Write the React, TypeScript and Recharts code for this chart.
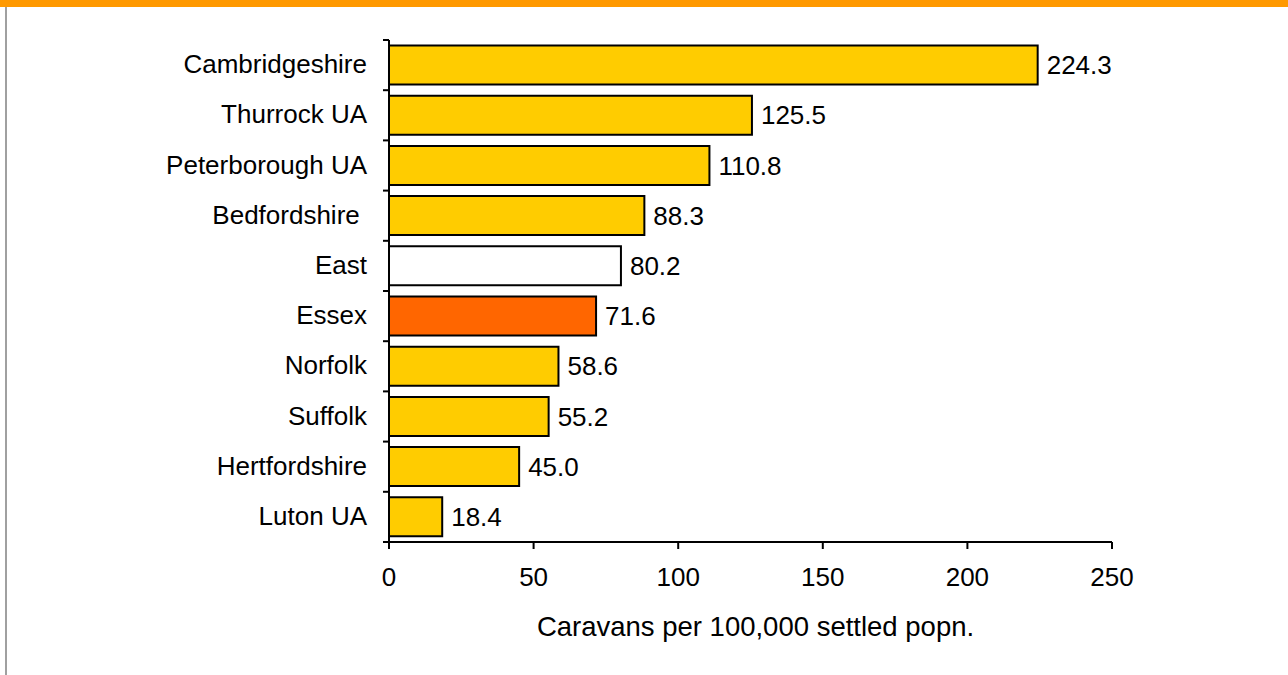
import React from 'react';
import { BarChart, Bar, XAxis, YAxis, Cell, LabelList } from 'recharts';

const categories = ['Cambridgeshire', 'Thurrock UA', 'Peterborough UA', 'Bedfordshire ', 'East', 'Essex', 'Norfolk', 'Suffolk', 'Hertfordshire', 'Luton UA'];
const values = [224.3, 125.5, 110.8, 88.3, 80.2, 71.6, 58.6, 55.2, 45.0, 18.4];
const barColors = ['#FFCC00', '#FFCC00', '#FFCC00', '#FFCC00', '#FFFFFF', '#FF6600', '#FFCC00', '#FFCC00', '#FFCC00', '#FFCC00'];
const xTicks = [0, 50, 100, 150, 200, 250];

const data = categories.map((name, i) => ({ name, value: values[i] }));

const W = 1288;
const H = 675;
const M = { top: 40, right: 176, bottom: 33, left: 0 };
const Y_W = 389;
const X_H = 100;
const PLOT_H = H - M.top - M.bottom - X_H;
const BAND = PLOT_H / categories.length;
const FONT = '"Liberation Sans", Arial, sans-serif';

const YTick = (props: any) => {
  const { y, payload, index } = props;
  const ax = Y_W;
  const top = y - BAND / 2;
  const bottom = y + BAND / 2;
  return (
    <g>
      <line x1={ax - 6} x2={ax} y1={top} y2={top} stroke="#000" strokeWidth={2} />
      {index === categories.length - 1 && (
        <line x1={ax - 6} x2={ax} y1={bottom} y2={bottom} stroke="#000" strokeWidth={2} />
      )}
      <text x={ax - 22} y={y - 1} textAnchor="end" dominantBaseline="central" fontSize={26} fontFamily={FONT} fill="#000" style={{ whiteSpace: 'pre' }}>
        {payload.value}
      </text>
    </g>
  );
};

export default function App() {
  return (
    <div style={{ position: 'absolute', left: 0, top: 0, width: W, height: H, background: '#fff', overflow: 'hidden' }}>
      <div style={{ position: 'absolute', left: 0, top: 0, width: W, height: 7, background: '#FF9900' }} />
      <div style={{ position: 'absolute', left: 5, top: 7, width: 2, height: H - 7, background: '#A0A0A0' }} />
      <div style={{ position: 'absolute', left: 0, top: 0 }}>
        <BarChart width={W} height={H} data={data} layout="vertical" margin={M} barCategoryGap="11%">
          <XAxis
            type="number"
            domain={[0, 250]}
            ticks={xTicks}
            tickSize={7}
            tickMargin={19}
            height={X_H}
            axisLine={{ stroke: '#000', strokeWidth: 2 }}
            tickLine={{ stroke: '#000', strokeWidth: 2 }}
            tick={{ fontSize: 26, fontFamily: FONT, fill: '#000' }}
            label={{ value: 'Caravans per 100,000 settled popn.', position: 'insideBottom', offset: 6, dx: 5, fontSize: 27.5, fontFamily: FONT, fill: '#000' }}
          />
          <YAxis
            type="category"
            dataKey="name"
            width={Y_W}
            axisLine={{ stroke: '#000', strokeWidth: 2 }}
            tickLine={false}
            tick={<YTick />}
            interval={0}
          />
          <Bar dataKey="value" stroke="#000" strokeWidth={2} isAnimationActive={false}>
            {data.map((d, i) => (
              <Cell key={d.name} fill={barColors[i]} />
            ))}
            <LabelList dataKey="value" position="right" offset={9} formatter={(v: any) => Number(v).toFixed(1)} style={{ fontSize: 26, fontFamily: FONT, fill: '#000' }} />
          </Bar>
        </BarChart>
      </div>
    </div>
  );
}
